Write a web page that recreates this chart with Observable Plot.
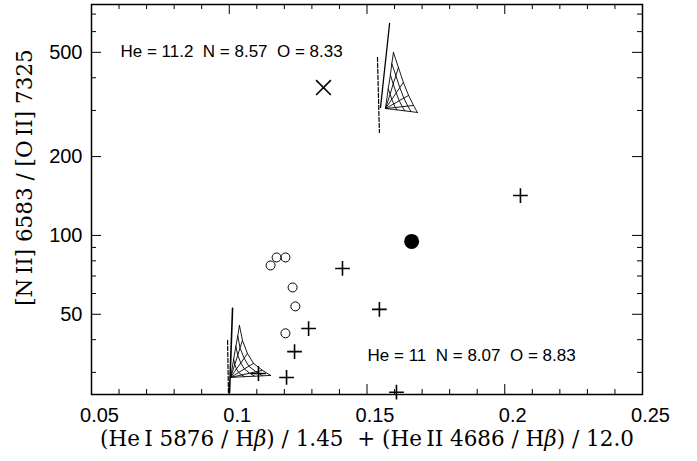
<!DOCTYPE html>
<html><head><meta charset="utf-8">
<script src="https://cdn.jsdelivr.net/npm/d3@7"></script>
<script src="https://cdn.jsdelivr.net/npm/@observablehq/plot@0.6"></script>
<style>
html,body{margin:0;padding:0;background:#fff;}
svg text{white-space:pre;}
</style></head><body><div id="chart"></div>
<script>
// ---- data ----
const crossX = [0.2057, 0.1411, 0.1545, 0.1288, 0.1237, 0.1208, 0.1106, 0.1607];
const crossY = [142, 74.8, 52.2, 44.1, 36.0, 28.7, 29.7, 25.2];
const circleX = [0.1150, 0.1172, 0.1204, 0.1230, 0.1240, 0.1204];
const circleY = [76.8, 82.4, 82.4, 63.3, 53.6, 42.3];
const filledX = [0.1662];
const filledY = [94.9];
const timesX = [0.1342];
const timesY = [367];

// model grids: each row is one radial line from the common corner to the outer edge
const lowerFan = [
  [[0.1005,28.71],[0.1016,33.69],[0.1024,37.77],[0.1031,41.39],[0.1037,45.35]],
  [[0.1005,28.71],[0.1020,32.16],[0.1031,34.89],[0.1039,37.24],[0.1048,39.74]],
  [[0.1005,28.71],[0.1026,30.92],[0.1042,32.58],[0.1054,33.98],[0.1066,35.44]],
  [[0.1005,28.71],[0.1034,29.97],[0.1055,30.92],[0.1071,31.68],[0.1088,32.47]],
  [[0.1005,28.71],[0.1045,29.33],[0.1074,29.79],[0.1097,30.16],[0.1121,30.53]],
  [[0.1005,28.71],[0.1055,28.89],[0.1092,29.01],[0.1121,29.11],[0.1150,29.21]]
];
const upperFan = [
  [[0.1567,305.3],[0.1577,362.6],[0.1585,410.2],[0.1590,452.6],[0.1596,499.4]],
  [[0.1567,305.3],[0.1584,346.2],[0.1595,378.9],[0.1605,407.3],[0.1614,437.8]],
  [[0.1567,305.3],[0.1590,330.7],[0.1606,350.2],[0.1619,366.5],[0.1632,383.7]],
  [[0.1567,305.3],[0.1597,317.6],[0.1617,326.9],[0.1634,334.5],[0.1651,342.3]],
  [[0.1567,305.3],[0.1603,307.9],[0.1628,310.1],[0.1648,311.8],[0.1669,313.4]],
  [[0.1567,305.3],[0.1608,301.6],[0.1637,299.0],[0.1660,296.9],[0.1683,294.8]]
];
const upperTrack = [[0.1582,644.6],[0.1549,307.9]];
const upperDash = [[0.1538,478],[0.1545,247.3]];
const lowerTrack = [[0.1012,52.66],[0.1001,25.16]];
const lowerDash = [[0.0994,39.74],[0.0997,25.16]];

const noteX = [0.0605, 0.1502];
const noteY = [504, 34.8];
const noteText = ["He = 11.2  N = 8.57  O = 8.33", "He = 11  N = 8.07  O = 8.83"];

const xLabelTicks = [0.05, 0.1, 0.15, 0.2, 0.25];
const xTickLabels = ["0.05", "0.1", "0.15", "0.2", "0.25"];
const xMajor = [0.1, 0.15, 0.2];
const xMinor = [0.06,0.07,0.08,0.09,0.11,0.12,0.13,0.14,0.16,0.17,0.18,0.19,0.21,0.22,0.23,0.24];
const yMajor = [50, 100, 200, 500];
const yTickLabels = ["50", "100", "200", "500"];
const yMinor = [30, 40, 60, 70, 80, 90, 300, 400, 600, 700];
const xTitle = "(He\u2009I 5876 / Hβ) / 1.45  + (He\u2009II 4686 / Hβ) / 12.0";
const yTitle = "[N\u2009II] 6583 / [O\u2009II] 7325";

// ---- build ----
const W = 697, H = 461, mL = 91, mR = 55, mT = 4, mB = 67;
const pw = W - mL - mR, ph = H - mT - mB;

function fanSegments(fan, name) {
  const out = [];
  fan.forEach((row, i) => row.forEach(([x, y], j) => out.push({x, y, id: name + "r" + i, o: j})));
  for (let j = 1; j < fan[0].length; j++)
    fan.forEach((row, i) => out.push({x: row[j][0], y: row[j][1], id: name + "c" + j, o: i}));
  return out;
}
const gridLines = fanSegments(lowerFan, "L").concat(fanSegments(upperFan, "U"));
const pts = a => a.map(([x, y]) => ({x, y}));

const xLab = new Map(xLabelTicks.map((d, i) => [d, xTickLabels[i]]));
const yLab = new Map(yMajor.map((d, i) => [d, yTickLabels[i]]));
const serif = "DejaVu Serif";

const chart = Plot.plot({
  width: W, height: H,
  marginLeft: mL, marginRight: mR, marginTop: mT, marginBottom: mB,
  style: {fontFamily: "Liberation Sans", background: "#fff", color: "#000"},
  x: {domain: [0.05, 0.25], label: null, axis: null},
  y: {type: "log", domain: [24.7, 761.5], label: null, axis: null},
  marks: [
    // ticks (inward)
    Plot.tickX(xMinor, {x: d => d, insetTop: ph - 5, stroke: "#000"}),
    Plot.tickX(xMajor, {x: d => d, insetTop: ph - 10, stroke: "#000"}),
    Plot.tickX(xMinor, {x: d => d, insetBottom: ph - 5, stroke: "#000"}),
    Plot.tickX(xMajor, {x: d => d, insetBottom: ph - 10, stroke: "#000"}),
    Plot.tickY(yMinor, {y: d => d, insetRight: pw - 5, stroke: "#000"}),
    Plot.tickY(yMajor, {y: d => d, insetRight: pw - 10, stroke: "#000"}),
    Plot.tickY(yMinor, {y: d => d, insetLeft: pw - 5, stroke: "#000"}),
    Plot.tickY(yMajor, {y: d => d, insetLeft: pw - 10, stroke: "#000"}),
    Plot.frame({stroke: "#000", strokeWidth: 1.5}),
    // tick labels
    Plot.axisX({ticks: xLabelTicks, tickSize: 0, tickPadding: 13, fontSize: 20, dx: 8,
      tickFormat: d => xLab.get(d), label: null}),
    Plot.axisY({ticks: yMajor, tickSize: 0, tickPadding: 9, fontSize: 20,
      tickFormat: d => yLab.get(d), label: null}),
    // model grids
    Plot.line(gridLines, {x: "x", y: "y", z: "id", sort: "o", stroke: "#000", strokeWidth: 0.9}),
    Plot.line(pts(upperTrack), {x: "x", y: "y", stroke: "#000", strokeWidth: 1.3}),
    Plot.line(pts(lowerTrack), {x: "x", y: "y", stroke: "#000", strokeWidth: 1.6}),
    Plot.line(pts(upperDash), {x: "x", y: "y", stroke: "#000", strokeWidth: 1.2, strokeDasharray: "4,2"}),
    Plot.line(pts(lowerDash), {x: "x", y: "y", stroke: "#000", strokeWidth: 1.2, strokeDasharray: "4,2"}),
    // observations
    Plot.dot(circleX, {x: d => d, y: (d, i) => circleY[i], r: 4.5, stroke: "#000", strokeWidth: 1, fill: "none"}),
    Plot.dot(crossX, {x: d => d, y: (d, i) => crossY[i], symbol: "plus", r: 4.8, stroke: "#000", strokeWidth: 1.6}),
    Plot.dot(timesX, {x: d => d, y: (d, i) => timesY[i], symbol: "times", r: 6.8, stroke: "#000", strokeWidth: 1.6}),
    Plot.dot(filledX, {x: d => d, y: (d, i) => filledY[i], r: 7.5, fill: "#000", stroke: "none"}),
    // annotations
    Plot.text(noteText, {x: (d, i) => noteX[i], y: (d, i) => noteY[i], text: d => d, textAnchor: "start",
      fontSize: 17, fill: "#000"}),
    // axis titles
    Plot.text([xTitle], {frameAnchor: "bottom", dy: 45, lineAnchor: "middle", textAnchor: "middle",
      text: d => d, fontSize: 21.5, fontFamily: serif, fill: "#000"}),
    Plot.text([yTitle], {frameAnchor: "left", dx: -66, dy: -22, rotate: -90, lineAnchor: "middle", textAnchor: "middle",
      text: d => d, fontSize: 21.5, fontFamily: serif, fill: "#000"})
  ]
});

// italic beta
d3.select(chart).selectAll("text").each(function () {
  const t = this.textContent;
  if (!t.includes("β")) return;
  const sel = d3.select(this);
  sel.text(null);
  const parts = t.split("β");
  parts.forEach((p, i) => {
    sel.append("tspan").text(p);
    if (i < parts.length - 1) sel.append("tspan").attr("font-style", "italic").text("β");
  });
});

document.getElementById("chart").appendChild(chart);
</script></body></html>
